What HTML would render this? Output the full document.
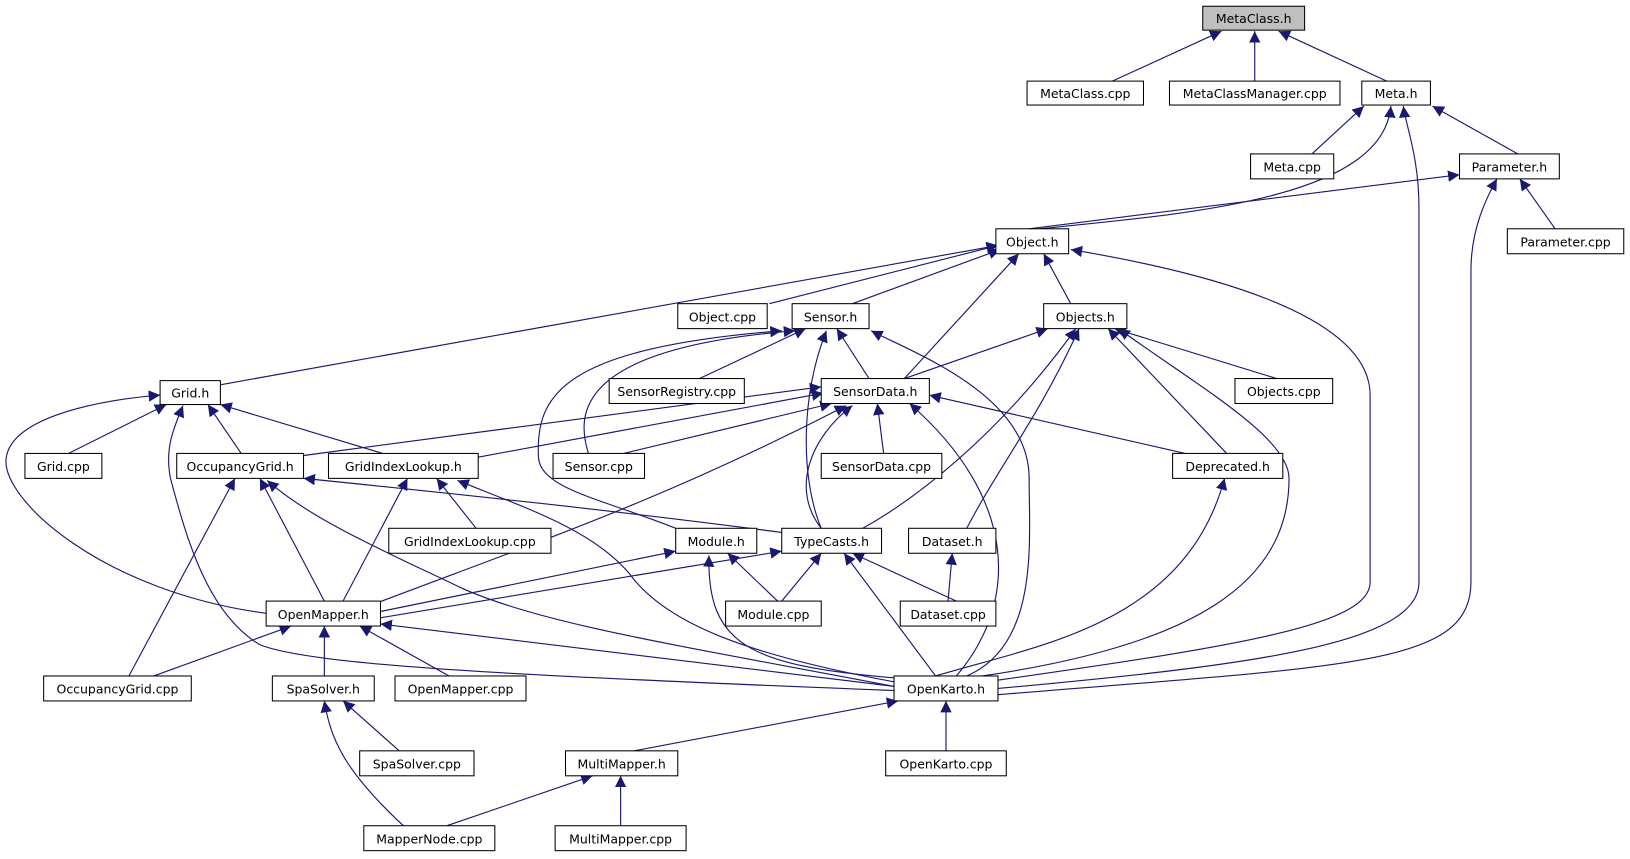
<!DOCTYPE html>
<html><head><meta charset="utf-8"><style>html,body{margin:0;padding:0;background:#fff}svg{display:block}</style></head><body>
<svg width="1630" height="859" viewBox="0 0 1568 826" preserveAspectRatio="none" xmlns="http://www.w3.org/2000/svg">
<defs><marker id="a" viewBox="0 0 10 10" refX="10" refY="5" markerWidth="11" markerHeight="11" markerUnits="userSpaceOnUse" orient="auto"><path d="M0,0 L10,5 L0,10 z" fill="#191970"/></marker></defs>
<g fill="none" stroke="#191970" stroke-width="1.1" marker-end="url(#a)">
<path d="M1070,78 L1175,30"/><path d="M1207,78 L1207,30"/><path d="M1334,78 L1230,30"/>
<path d="M1262,148 L1312,102"/><path d="M1000,220 C1150,205 1330,190 1338,102"/>
<path d="M960,662 C1200,640 1365,620 1365,560 L1365,200 C1365,150 1352,120 1350,102"/>
<path d="M1460,148 L1378,102"/><path d="M1496,220 L1462,172"/><path d="M990,220 L1404,168"/>
<path d="M960,668 C1300,640 1415,640 1415,560 L1415,260 C1415,220 1430,190 1440,172"/>
<path d="M740,292 L960,236"/><path d="M820,292 L962,240"/><path d="M1030,292 L1004,244"/><path d="M870,364 L980,244"/><path d="M212,370 L960,236"/>
<path d="M960,654 C1200,620 1318,600 1318,560 L1318,380 C1318,300 1150,260 1030,240"/>
<path d="M566,436 C555,400 550,335 765,318"/><path d="M650,508 C580,480 520,470 518,440 C515,380 540,335 752,318"/>
<path d="M673,364 L775,316"/><path d="M836,364 L805,316"/><path d="M790,508 C770,460 770,380 795,318"/>
<path d="M930,650 C1000,620 990,520 990,460 C990,380 880,340 838,318"/>
<path d="M870,364 L1008,316"/><path d="M1228,364 L1072,316"/><path d="M1180,436 L1066,316"/>
<path d="M830,508 C880,480 960,420 1035,316"/><path d="M930,508 C960,450 1000,400 1038,316"/>
<path d="M945,650 C1150,620 1240,560 1240,460 C1240,420 1150,370 1076,316"/>
<path d="M66,436 L160,389"/><path d="M232,436 L200,389"/><path d="M368,436 L212,389"/>
<path d="M258,590 C100,570 0,480 6,440 C12,400 100,384 154,380"/>
<path d="M860,664 C500,650 300,640 250,620 C200,590 180,520 164,460 C158,430 168,410 176,390"/>
<path d="M292,438 L790,372"/><path d="M458,440 L792,378"/><path d="M600,436 L800,388"/><path d="M850,436 L844,388"/><path d="M1140,436 L894,380"/>
<path d="M790,508 C760,470 780,420 820,390"/><path d="M362,580 C520,520 640,480 814,390"/>
<path d="M920,650 C980,580 980,480 875,388"/>
<path d="M752,512 C600,492 450,476 292,460"/><path d="M124,650 L226,460"/><path d="M312,578 L250,460"/>
<path d="M860,660 C650,620 520,600 443,565 C370,530 300,500 257,462"/>
<path d="M458,508 L420,460"/><path d="M330,578 L392,460"/><path d="M862,656 C720,630 640,600 605,551 C570,510 510,490 440,462"/>
<path d="M366,588 L650,530"/><path d="M366,594 L752,530"/>
<path d="M748,578 L700,532"/><path d="M862,652 C720,640 680,620 682,534"/>
<path d="M752,578 L790,532"/><path d="M920,578 L820,532"/><path d="M900,650 L812,532"/><path d="M912,578 L916,532"/>
<path d="M860,660 L366,600"/><path d="M148,650 L280,602"/><path d="M312,650 L312,602"/><path d="M432,650 L346,602"/>
<path d="M900,650 C1000,620 1140,600 1178,460"/>
<path d="M610,722 L864,674"/><path d="M910,722 L910,674"/><path d="M384,722 L330,674"/>
<path d="M388,794 C330,740 318,710 312,674"/><path d="M430,794 L570,746"/><path d="M597,794 L597,746"/>
</g>
<g stroke="#000" stroke-width="1" fill="#fff">
<rect x="1157" y="6" width="98" height="23" fill="#bfbfbf"/>
<rect x="988" y="78" width="112" height="23"/><rect x="1125" y="78" width="164" height="23"/><rect x="1310" y="78" width="66" height="23"/>
<rect x="1203" y="148" width="80" height="24"/><rect x="1404" y="148" width="96" height="24"/><rect x="1450" y="220" width="112" height="24"/>
<rect x="958" y="220" width="70" height="24"/><rect x="652" y="292" width="86" height="24"/><rect x="762" y="292" width="74" height="24"/><rect x="1004" y="292" width="80" height="24"/>
<rect x="154" y="366" width="58" height="23"/><rect x="790" y="364" width="104" height="24"/><rect x="586" y="364" width="130" height="24"/><rect x="1188" y="364" width="94" height="24"/>
<rect x="24" y="436" width="74" height="24"/><rect x="170" y="436" width="122" height="24"/><rect x="316" y="436" width="144" height="24"/><rect x="532" y="436" width="88" height="24"/><rect x="790" y="436" width="116" height="24"/><rect x="1128" y="436" width="106" height="24"/>
<rect x="374" y="508" width="156" height="24"/><rect x="650" y="508" width="78" height="24"/><rect x="752" y="508" width="96" height="24"/><rect x="874" y="508" width="84" height="24"/>
<rect x="256" y="578" width="110" height="24"/><rect x="698" y="578" width="92" height="24"/><rect x="866" y="578" width="92" height="24"/>
<rect x="42" y="650" width="142" height="24"/><rect x="262" y="650" width="98" height="24"/><rect x="380" y="650" width="126" height="24"/><rect x="860" y="650" width="100" height="24"/>
<rect x="346" y="722" width="110" height="24"/><rect x="544" y="722" width="108" height="24"/><rect x="852" y="722" width="116" height="24"/>
<rect x="350" y="794" width="126" height="24"/><rect x="534" y="794" width="126" height="24"/>
</g>
<g font-family="DejaVu Sans, Liberation Sans, sans-serif" font-size="12" text-anchor="middle" fill="#000">
<text x="1206" y="22">MetaClass.h</text><text x="1044" y="94">MetaClass.cpp</text><text x="1207" y="94">MetaClassManager.cpp</text><text x="1343" y="94">Meta.h</text>
<text x="1243" y="165">Meta.cpp</text><text x="1452" y="165">Parameter.h</text><text x="1506" y="237">Parameter.cpp</text>
<text x="993" y="237">Object.h</text><text x="695" y="309">Object.cpp</text><text x="799" y="309">Sensor.h</text><text x="1044" y="309">Objects.h</text>
<text x="183" y="382">Grid.h</text><text x="842" y="381">SensorData.h</text><text x="651" y="381">SensorRegistry.cpp</text><text x="1235" y="381">Objects.cpp</text>
<text x="61" y="453">Grid.cpp</text><text x="231" y="453">OccupancyGrid.h</text><text x="388" y="453">GridIndexLookup.h</text><text x="576" y="453">Sensor.cpp</text><text x="848" y="453">SensorData.cpp</text><text x="1181" y="453">Deprecated.h</text>
<text x="452" y="525">GridIndexLookup.cpp</text><text x="689" y="525">Module.h</text><text x="800" y="525">TypeCasts.h</text><text x="916" y="525">Dataset.h</text>
<text x="311" y="595">OpenMapper.h</text><text x="744" y="595">Module.cpp</text><text x="912" y="595">Dataset.cpp</text>
<text x="113" y="667">OccupancyGrid.cpp</text><text x="311" y="667">SpaSolver.h</text><text x="443" y="667">OpenMapper.cpp</text><text x="910" y="667">OpenKarto.h</text>
<text x="401" y="739">SpaSolver.cpp</text><text x="598" y="739">MultiMapper.h</text><text x="910" y="739">OpenKarto.cpp</text>
<text x="413" y="811">MapperNode.cpp</text><text x="597" y="811">MultiMapper.cpp</text>
</g>
</svg>
</body></html>
